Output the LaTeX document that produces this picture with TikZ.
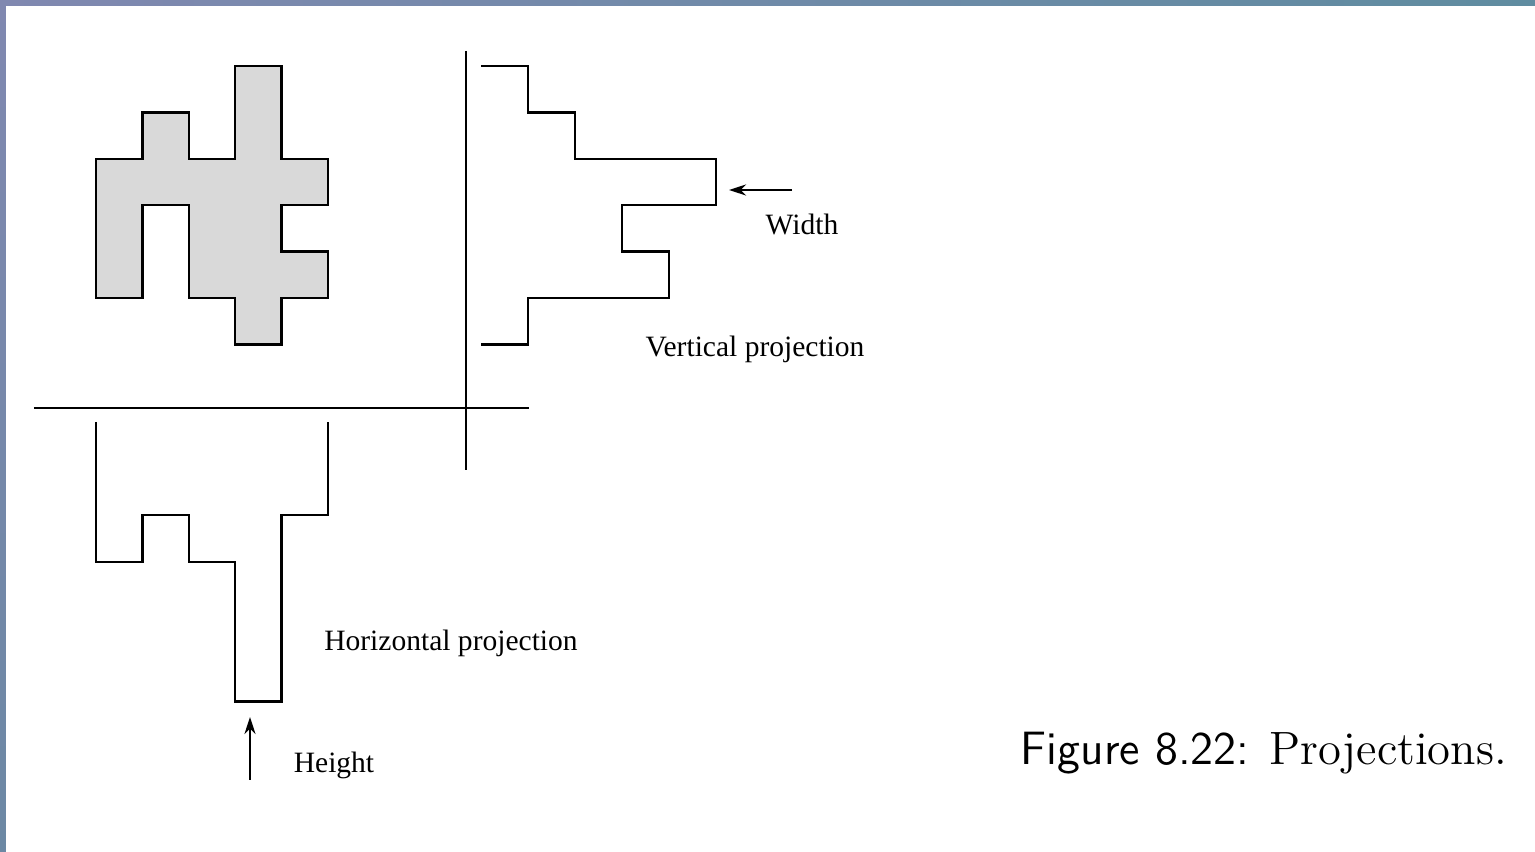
\documentclass[tikz,border=0pt]{standalone}
\usepackage{fontspec}
\usepackage{xcolor}
\usepackage{tikz}
\usetikzlibrary{arrows.meta, positioning}
\newfontfamily\labelfont{Liberation Serif}
\definecolor{frametop}{RGB}{128,136,176}
\definecolor{frameright}{RGB}{95,140,160}
\definecolor{framebottom}{RGB}{108,136,164}
\definecolor{blobgray}{RGB}{217,217,217}

\begin{document}
\begin{tikzpicture}[
    blob/.style={draw, line width=0.7pt, fill=blobgray, line join=miter},
    profile/.style={draw, line width=0.7pt, line join=miter},
    axis/.style={line width=0.7pt},
    arrow/.style={-{Stealth[length=1.7mm, width=1.1mm]}, line width=0.7pt},
    label/.style={font=\labelfont\fontsize{8.4}{10}\selectfont, inner sep=0pt},
    caption/.style={font=\fontsize{13.3}{16}\selectfont, inner sep=0pt}
]
    \useasboundingbox (0,0) rectangle (15.35,-8.52);

    % Frame
    \shade[left color=frametop, right color=frameright] (0,0) rectangle (15.35,-0.06);
    \shade[top color=frametop, bottom color=framebottom] (0,0) rectangle (0.06,-8.52);

    % Shape
    \begin{scope}[shift={(0.96,-0.66)}, x=0.464cm, y=-0.464cm]
        \draw[blob] (3,0) -- (4,0) -- (4,2) -- (5,2) -- (5,3) -- (4,3) -- (4,4) -- (5,4)
            -- (5,5) -- (4,5) -- (4,6) -- (3,6) -- (3,5) -- (2,5) -- (2,3) -- (1,3)
            -- (1,5) -- (0,5) -- (0,2) -- (1,2) -- (1,1) -- (2,1) -- (2,2) -- (3,2) -- cycle;
    \end{scope}

    % Axes
    \draw[axis] (4.66,-0.51) -- (4.66,-4.70);
    \draw[axis] (0.34,-4.08) -- (5.29,-4.08);

    % Vertical projection
    \begin{scope}[shift={(4.81,-0.66)}, x=0.47cm, y=-0.464cm]
        \draw[profile] (0,0) -- (1,0) -- (1,1) -- (2,1) -- (2,2) -- (5,2) -- (5,3) -- (3,3)
            -- (3,4) -- (4,4) -- (4,5) -- (1,5) -- (1,6) -- (0,6);
    \end{scope}

    % Horizontal projection
    \begin{scope}[shift={(0.96,-4.22)}, x=0.464cm, y=-0.466cm]
        \draw[profile] (0,0) -- (0,3) -- (1,3) -- (1,2) -- (2,2) -- (2,3) -- (3,3) -- (3,6)
            -- (4,6) -- (4,2) -- (5,2) -- (5,0);
    \end{scope}

    % Labels
    \node[label] (width) at (8.02,-2.24) {Width};
    \node[label] (vproj) at (7.55,-3.49) {Vertical projection};
    \node[label] (hproj) at (4.51,-6.43) {Horizontal projection};
    \node[label] (height) at (3.34,-7.65) {Height};

    % Arrows
    \coordinate (wtail) at (7.92,-1.90);
    \coordinate (wtip) at (7.29,-1.90);
    \coordinate (htail) at (2.50,-7.80);
    \coordinate (htip) at (2.50,-7.17);
    \draw[arrow] (wtail) -- (wtip);
    \draw[arrow] (htail) -- (htip);

    % Caption
    \node[caption] (cap) at (12.64,-7.53) {{\sffamily Figure 8.22:} Projections.};
\end{tikzpicture}
\end{document}
